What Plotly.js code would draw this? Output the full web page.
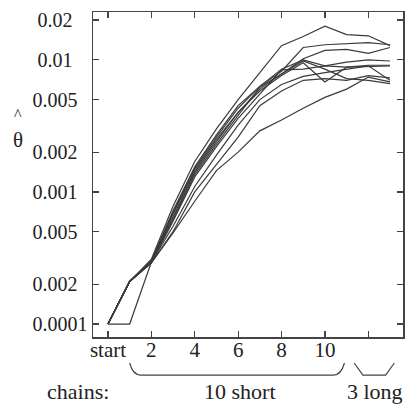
<!DOCTYPE html>
<html>
<head>
<meta charset="utf-8">
<script src="https://cdn.plot.ly/plotly-3.0.1.min.js"></script>
<style>html,body{margin:0;padding:0;background:#fff;}#chart{width:408px;height:406px;}</style>
</head>
<body>
<div id="chart"></div>
<script>
// x positions: start, 1..13
const steps = [0,1,2,3,4,5,6,7,8,9,10,11,12,13];
const xTickVals = [0,2,4,6,8,10,12];
const xTickText = ["start","2","4","6","8","10",""];
const yTickVals = [0.0001,0.0002,0.0005,0.001,0.002,0.005,0.01,0.02];
const yTickText = ["0.0001","0.002\u00a0\u00a0","0.005\u00a0\u00a0","0.001\u00a0\u00a0","0.002\u00a0\u00a0","0.005\u00a0\u00a0","0.01\u00a0\u00a0\u00a0","0.02\u00a0\u00a0\u00a0"];

// theta-hat estimates for each chain
const chain1  = [1e-4,2.1e-4,3.1e-4,7.8e-4,1.7e-3,3.0e-3,5.0e-3,8.0e-3,1.28e-2,1.5e-2,1.8e-2,1.55e-2,1.52e-2,1.28e-2];
const chain2  = [1e-4,2.1e-4,3.0e-4,7.0e-4,1.5e-3,2.6e-3,4.3e-3,6.3e-3,8.2e-3,1.24e-2,1.3e-2,1.33e-2,1.35e-2,1.3e-2];
const chain3  = [1e-4,2.1e-4,3.0e-4,6.5e-4,1.4e-3,2.4e-3,4.0e-3,6.0e-3,7.8e-3,1.02e-2,1.18e-2,1.2e-2,1.12e-2,1.24e-2];
const chain4  = [1e-4,2.1e-4,3.0e-4,7.2e-4,1.55e-3,2.7e-3,4.5e-3,6.3e-3,8.5e-3,1.0e-2,9.0e-3,9.6e-3,1.0e-2,9.8e-3];
const chain5  = [1e-4,2.1e-4,3.0e-4,6.8e-4,1.45e-3,2.5e-3,4.0e-3,5.8e-3,7.6e-3,9.5e-3,6.8e-3,8.8e-3,9.1e-3,9.1e-3];
const chain6  = [1e-4,2.1e-4,2.9e-4,6.0e-4,1.3e-3,2.2e-3,3.6e-3,5.5e-3,8.4e-3,8.5e-3,9.0e-3,8.8e-3,8.9e-3,9.0e-3];
const chain7  = [1e-4,1e-4,2.95e-4,5.5e-4,1.1e-3,1.9e-3,3.2e-3,5.0e-3,6.5e-3,7.5e-3,8.0e-3,8.5e-3,9.0e-3,7.0e-3];
const chain8  = [1e-4,2.1e-4,3.0e-4,6.2e-4,1.35e-3,2.3e-3,3.8e-3,6.2e-3,7.8e-3,9.8e-3,8.5e-3,7.2e-3,7.0e-3,6.6e-3];
const chain9  = [1e-4,2.1e-4,2.9e-4,5.0e-4,1.0e-3,1.6e-3,2.6e-3,4.5e-3,5.8e-3,7.0e-3,7.2e-3,7.0e-3,7.6e-3,7.3e-3];
const chain10 = [1e-4,2.1e-4,2.9e-4,4.9e-4,8.5e-4,1.45e-3,2.0e-3,2.9e-3,3.5e-3,4.3e-3,5.2e-3,6.0e-3,7.4e-3,6.8e-3];

const chains = [chain1,chain2,chain3,chain4,chain5,chain6,chain7,chain8,chain9,chain10];
const lineColor = "#3a3a3a";
const traces = chains.map((c,i) => ({
  x: steps, y: c, type: "scatter", mode: "lines",
  line: {color: lineColor, width: 1.2}, hoverinfo: "none", showlegend: false
}));

const serif = "Liberation Serif, Times New Roman, serif";
const axisColor = "#444";
const ann = (text, x, y, size) => ({
  text: text, xref: "paper", yref: "paper", x: x, y: y, showarrow: false,
  xanchor: "center", yanchor: "middle",
  font: {family: serif, size: size, color: "#222"}
});
const layout = {
  width: 408, height: 406,
  margin: {l: 93, r: 5, t: 12, b: 69, pad: 0},
  paper_bgcolor: "#fff", plot_bgcolor: "#fff",
  font: {family: serif, color: "#222", size: 20},
  showlegend: false,
  xaxis: {
    range: [-0.69, 13.6], showgrid: false, zeroline: false,
    showline: true, linecolor: axisColor, linewidth: 1.5, mirror: "allticks",
    ticks: "inside", ticklen: 6, tickwidth: 1.2, tickcolor: axisColor,
    tickvals: xTickVals, ticktext: xTickText, ticklabelstandoff: -7,
    tickfont: {family: serif, size: 21, color: "#222"}
  },
  yaxis: {
    type: "log", range: [-4.098, -1.638], showgrid: false, zeroline: false,
    showline: true, linecolor: axisColor, linewidth: 1.5, mirror: "allticks",
    ticks: "inside", ticklen: 6, tickwidth: 1.2, tickcolor: axisColor,
    tickvals: yTickVals, ticktext: yTickText,
    tickfont: {family: serif, size: 20, color: "#222"}
  },
  shapes: [
    {type: "path", xref: "x", yref: "paper",
     path: "M 1.0 -0.08 Q 1.15 -0.117 1.5 -0.117 L 10.4 -0.117 Q 10.75 -0.117 10.9 -0.08",
     line: {color: axisColor, width: 1.2}},
    {type: "path", xref: "x", yref: "paper",
     path: "M 11.35 -0.08 L 11.75 -0.117 L 12.8 -0.117 L 13.2 -0.08",
     line: {color: axisColor, width: 1.2}}
  ],
  annotations: [
    ann("chains:", -0.048, -0.169, 22),
    ann("10 short", 0.474, -0.169, 22),
    ann("3 long", 0.91, -0.169, 22),
    ann("^", -0.242, 0.685, 16),
    ann("θ", -0.242, 0.605, 21)
  ]
};

Plotly.newPlot("chart", traces, layout, {displayModeBar: false, staticPlot: true});
</script>
</body>
</html>
